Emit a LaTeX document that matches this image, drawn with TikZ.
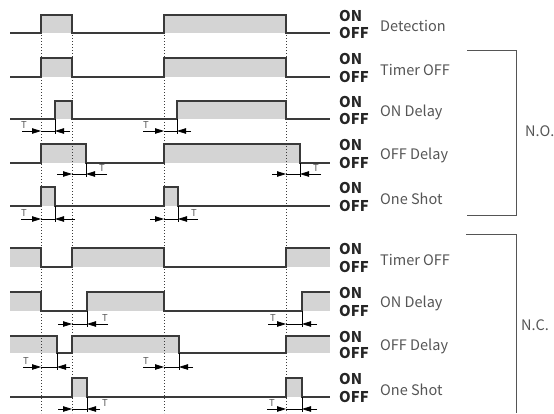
\documentclass[tikz,border=0pt]{standalone}
\usepackage{fontspec}
\setmainfont{Noto Sans CJK JP}
\usetikzlibrary{arrows.meta}

\definecolor{wavecol}{HTML}{3A3A3A}
\definecolor{ongray}{HTML}{D4D4D4}
\definecolor{txtcol}{HTML}{555555}

\tikzset{
  wave/.style={draw=wavecol, line width=1.3pt},
  guide/.style={draw=wavecol, line width=1pt, dash pattern=on 1.3pt off 1.7pt},
  tline/.style={draw=black, line width=0.8pt},
  tarr/.style={tline, -{Triangle[length=9pt,width=5.5pt]}},
  tlab/.style={text=txtcol, font=\fontsize{9.5}{9.5}\selectfont, inner sep=0pt},
  onoff/.style={font=\bfseries\fontsize{14.8}{14.8}\selectfont, text=black!85, anchor=west, inner sep=0pt},
  mode/.style={font=\fontsize{14.5}{14.5}\selectfont, text=txtcol, anchor=west, inner sep=0pt},
  brace/.style={draw=txtcol, line width=0.9pt}
}

\begin{document}
\begin{tikzpicture}[x=1pt,y=-1pt]
\useasboundingbox (0,0) rectangle (554,413);

% grey ON areas
\foreach \yh/\yl/\segs in {15/33/{41/72,164/286}, 58/77/{41/72,164/286},
    101/119/{55/72,177/286}, 144/163/{41/86,164/300}, 187/206/{41/55,164/178},
    248/267/{10/41,72/164,286/330}, 292/311/{10/41,87/164,302/330},
    336/353/{10/57,72/179,286/330}, 378/397/{72/87,286/302}}
  \foreach \a/\b in \segs
    \fill[ongray] (\a,\yh) rectangle (\b,\yl);

% dotted time marks
\foreach \x in {41,72,164,286}
  \draw[guide] (\x,35) -- (\x,413);

% N.O. waveforms
\draw[wave] (10,33) -| (41,15) -| (72,33) -| (164,15) -| (286,33) -- (330,33);
\draw[wave] (10,77) -| (41,58) -| (72,77) -| (164,58) -| (286,77) -- (330,77);
\draw[wave] (10,119) -| (55,101) -| (72,119) -| (177,101) -| (286,119) -- (330,119);
\draw[wave] (10,163) -| (41,144) -| (86,163) -| (164,144) -| (300,163) -- (330,163);
\draw[wave] (10,206) -| (41,187) -| (55,206) -| (164,187) -| (178,206) -- (330,206);
% N.C. waveforms
\draw[wave] (10,248) -| (41,267) -| (72,248) -| (164,267) -| (286,248) -- (330,248);
\draw[wave] (10,292) -| (41,311) -| (87,292) -| (164,311) -| (302,292) -- (330,292);
\draw[wave] (10,336) -| (57,353) -| (72,336) -| (179,353) -| (286,336) -- (330,336);
\draw[wave] (10,397) -| (72,378) -| (87,397) -| (286,378) -| (302,397) -- (330,397);

% delay T
\foreach \y/\yl/\l/\a/\b/\r/\tx in {131/119/22/41/55/70/24, 131/119/143/164/177/191/146,
    174/163/57/72/86/107/102, 174/163/272/286/300/321/316,
    219/206/21/41/55/75/24, 219/206/150/164/178/198/194,
    324/311/58/72/87/108/105, 324/311/268/286/302/317/273,
    367/353/23/41/57/70/26, 367/353/143/164/179/193/146,
    409/397/58/72/87/100/105, 409/397/267/286/302/317/272}{
  \draw[tline] (\a,\y) -- (\b,\y);
  \draw[tarr] (\l,\y) -- (\a,\y);
  \draw[tarr] (\r,\y) -- (\b,\y);
  \draw[tline] (\b,\yl) -- (\b,\y+3);
  \node[tlab] at (\tx,\y-6) {T};
}

% labels
\foreach \yh/\yl/\name/\txt in {15/33/det/Detection, 58/77/notimer/Timer OFF,
    101/119/noondly/ON Delay, 144/163/nooffdly/OFF Delay, 187/206/noshot/One Shot,
    248/267/nctimer/Timer OFF, 292/311/ncondly/ON Delay, 336/353/ncoffdly/OFF Delay,
    378/397/ncshot/One Shot}{
  \node[onoff] (on\name) at (339,\yh+1) {ON};
  \node[onoff] (off\name) at (339,\yl) {OFF};
  \node[mode] (\name) at (380,{(\yh+\yl)/2+2}) {\txt};
}

\draw[brace] (467,50) -| (516,215) -- (467,215);
\node[mode] (no) at (525,131) {N.O.};
\draw[brace] (466,234) -| (516,413);
\node[mode] (nc) at (521,325) {N.C.};
\end{tikzpicture}
\end{document}
